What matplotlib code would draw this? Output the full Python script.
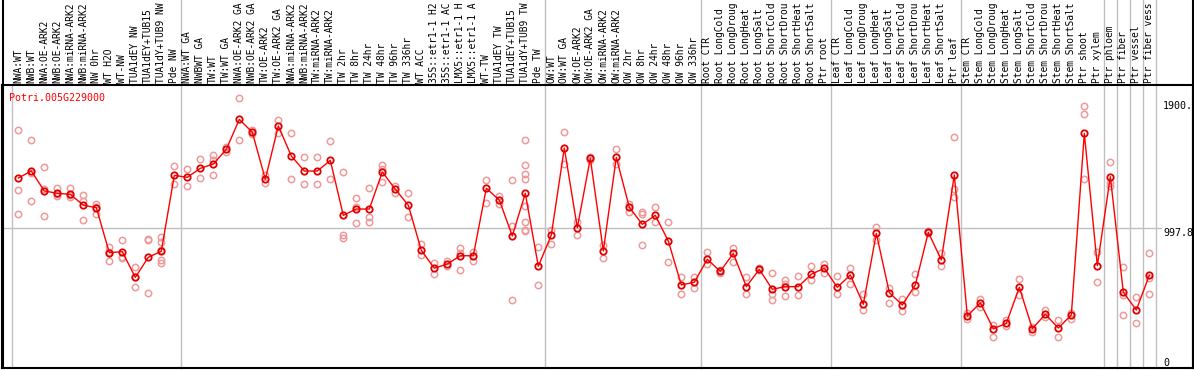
import matplotlib
matplotlib.use("Agg")
import matplotlib.pyplot as plt
import matplotlib.transforms as mtransforms
from matplotlib.lines import Line2D

gene = "Potri.005G229000"

# labels as shown (the source cuts them at 14 characters)
labels = [
    "NWA:WT", "NWB:WT", "NWA:OE-ARK2", "NWB:OE-ARK2", "NWA:miRNA-ARK2", "NWB:miRNA-ARK2",
    "NW 0hr", "WT H2O", "WT-NW", "TUA1dEY NW", "TUA1dEY+TUB15", "TUA1dY+TUB9 NW", "Pde NW",
    "NWA:WT GA", "NWBWT GA", "TW:WT", "TW:WT GA", "NWA:OE-ARK2 GA", "NWB:OE-ARK2 GA",
    "TW:OE-ARK2", "TW:OE-ARK2 GA", "NWA:miRNA-ARK2", "NWB:miRNA-ARK2", "TW:miRNA-ARK2",
    "TW:miRNA-ARK2", "TW 2hr", "TW 8hr", "TW 24hr", "TW 48hr", "TW 96hr", "TW 336hr",
    "WT ACC", "35S::etr1-1 H2", "35S::etr1-1 AC", "LMX5::etr1-1 H", "LMX5::etr1-1 A",
    "WT-TW", "TUA1dEY TW", "TUA1dEY+TUB15", "TUA1dY+TUB9 TW", "Pde TW",
    "OW:WT", "OW:WT GA", "OW:OE-ARK2", "OW:OE-ARK2 GA", "OW:miRNA-ARK2", "OW:miRNA-ARK2",
    "OW 2hr", "OW 8hr", "OW 24hr", "OW 48hr", "OW 96hr", "OW 336hr",
    "Root CTR", "Root LongCold", "Root LongDroug", "Root LongHeat", "Root LongSalt",
    "Root ShortCold", "Root ShortDrou", "Root ShortHeat", "Root ShortSalt", "Ptr root",
    "Leaf CTR", "Leaf LongCold", "Leaf LongDroug", "Leaf LongHeat", "Leaf LongSalt",
    "Leaf ShortCold", "Leaf ShortDrou", "Leaf ShortHeat", "Leaf ShortSalt", "Ptr leaf",
    "Stem CTR", "Stem LongCold", "Stem LongDroug", "Stem LongHeat", "Stem LongSalt",
    "Stem ShortCold", "Stem ShortDrou", "Stem ShortHeat", "Stem ShortSalt",
    "Ptr shoot", "Ptr xylem", "Ptr phloem", "Ptr fiber", "Ptr vessel", "Ptr fiber vess",
]

means = [
    1354, 1404, 1262, 1245, 1238, 1160, 1143, 822, 829, 646, 789, 832, 1373,
    1359, 1423, 1454, 1558, 1772, 1680, 1345, 1725, 1511, 1404, 1404, 1480,
    1088, 1133, 1133, 1397, 1274, 1160, 839, 711, 741, 800, 800,
    1281, 1197, 941, 1245, 725,
    948, 1568, 1000, 1494, 834, 1501, 1145, 1024, 1088, 905, 592, 611,
    775, 689, 817, 580, 703, 561, 580, 580, 668, 711,
    575, 663, 454, 960, 537, 449, 592, 967, 770, 1376,
    371, 465, 280, 318, 575, 280, 383, 285, 378, 1672, 729,
    1364, 540, 413, 661,
]

reps = [
    [1694, 1269, 1095], [1623, 1388, 1188], [1430, 1278, 1083], [1285, 1226, 1240],
    [1285, 1217, 1230], [1231, 1190, 1053], [1171, 1150, 1095], [860, 830, 765],
    [910, 786, 790], [718, 575, 646], [922, 915, 534], [931, 900, 840, 770, 746],
    [1437, 1309],
    [1416, 1299], [1489, 1352], [1518, 1480, 1373], [1577, 1539], [1922, 1623],
    [1696, 1666], [1376, 1321], [1765, 1677], [1672, 1345], [1501, 1309],
    [1501, 1309], [1616, 1345], [1395, 946, 930], [1209, 1150, 1031],
    [1281, 1078, 1038], [1447, 1420, 1323], [1299, 1249], [1245, 1074],
    [884, 803], [750, 668], [760, 725], [857, 820, 696], [827, 765],
    [1340, 1174], [1226, 1169], [1340, 1012, 485],
    [1623, 1447, 1381, 1349, 1157, 1041, 984, 975], [862, 592],
    [981, 884], [1680, 1454], [1041, 946], [1505, 1485], [874, 786], [1558, 1454],
    [1171, 1112], [1110, 1095, 874], [1147, 1041], [1038, 753], [649, 525], [649, 572],
    [824, 741], [700, 680], [857, 753], [649, 525], [710, 695], [675, 525, 482],
    [627, 600, 513], [656, 518], [727, 627], [741, 675],
    [656, 525], [715, 597], [525, 413], [1007, 912], [568, 461], [490, 408],
    [668, 544], [975, 960], [817, 729], [1646, 1274, 1221],
    [390, 347], [490, 437], [304, 223], [342, 300], [632, 520], [295, 259],
    [413, 365], [342, 219], [395, 347], [1867, 1808, 1345], [829, 611],
    [1466, 1321, 1300], [718, 520, 376], [504, 318], [817, 640, 525],
]

group_edges = [13, 41, 53, 63, 73, 84, 85, 86, 87, 88]
ytick_vals = [1900, 997.8, 0]
ytick_text = ["1900.", "997.8", "0"]

W, H = 1194, 370
mono = "DejaVu Sans Mono"
grey = "#c0c0c0"

fig = plt.figure(figsize=(W / 100, H / 100), dpi=100)
ax = fig.add_axes([2 / W, 2 / H, 1191 / W, 283 / H])
ax.set_xlim(-1.254, 90.36)
ax.set_ylim(0, 2017)
ax.set_xticks([])
ax.set_yticks([])
for s in ax.spines.values():
    s.set_linewidth(1.5)
    s.set_color("black")

x = list(range(len(means)))

# separators
ax.axvline(-0.5, color=grey, lw=1)
top_ext = 368 / 283
for e in group_edges:
    ax.axvline(e - 0.5, ymin=0, ymax=top_ext, clip_on=False, color=grey, lw=1)
ax.axhline(997.8, xmin=0, xmax=(1161 - 2) / 1191, color=grey, lw=1)

# header borders
fig.add_artist(Line2D([2.5 / W, 2.5 / W], [2 / H, 1], color="black", lw=1.5))
fig.add_artist(Line2D([1193 / W, 1193 / W], [2 / H, 1], color="black", lw=1.5))

# replicates
for i, r in enumerate(reps):
    ax.plot([i] * len(r), r, linestyle="none", marker="o", ms=4.6, mfc="none",
            mec="#ee9a9a", mew=1.1, zorder=2)

# mean line
ax.plot(x, means, color="red", lw=1, marker="o", ms=4.6, mfc="none",
        mec="#e00000", mew=1.3, zorder=3)

# column labels
trans = mtransforms.blended_transform_factory(ax.transData, ax.transAxes)
for i, lab in enumerate(labels):
    ax.text(i, 1 + 2 / 283, lab, rotation=90, ha="center", va="bottom",
            transform=trans, fontsize=6.9, family=mono, clip_on=False)

# value labels
for v, t in zip(ytick_vals, ytick_text):
    ax.text(88.05, v, t, ha="left", va="bottom" if v == 0 else "top",
            fontsize=7.2, family=mono)

ax.text(0.0061, 0.972, gene, transform=ax.transAxes, ha="left", va="top",
        fontsize=7.2, family=mono, color="red")

fig.savefig("out.png", dpi=100)
